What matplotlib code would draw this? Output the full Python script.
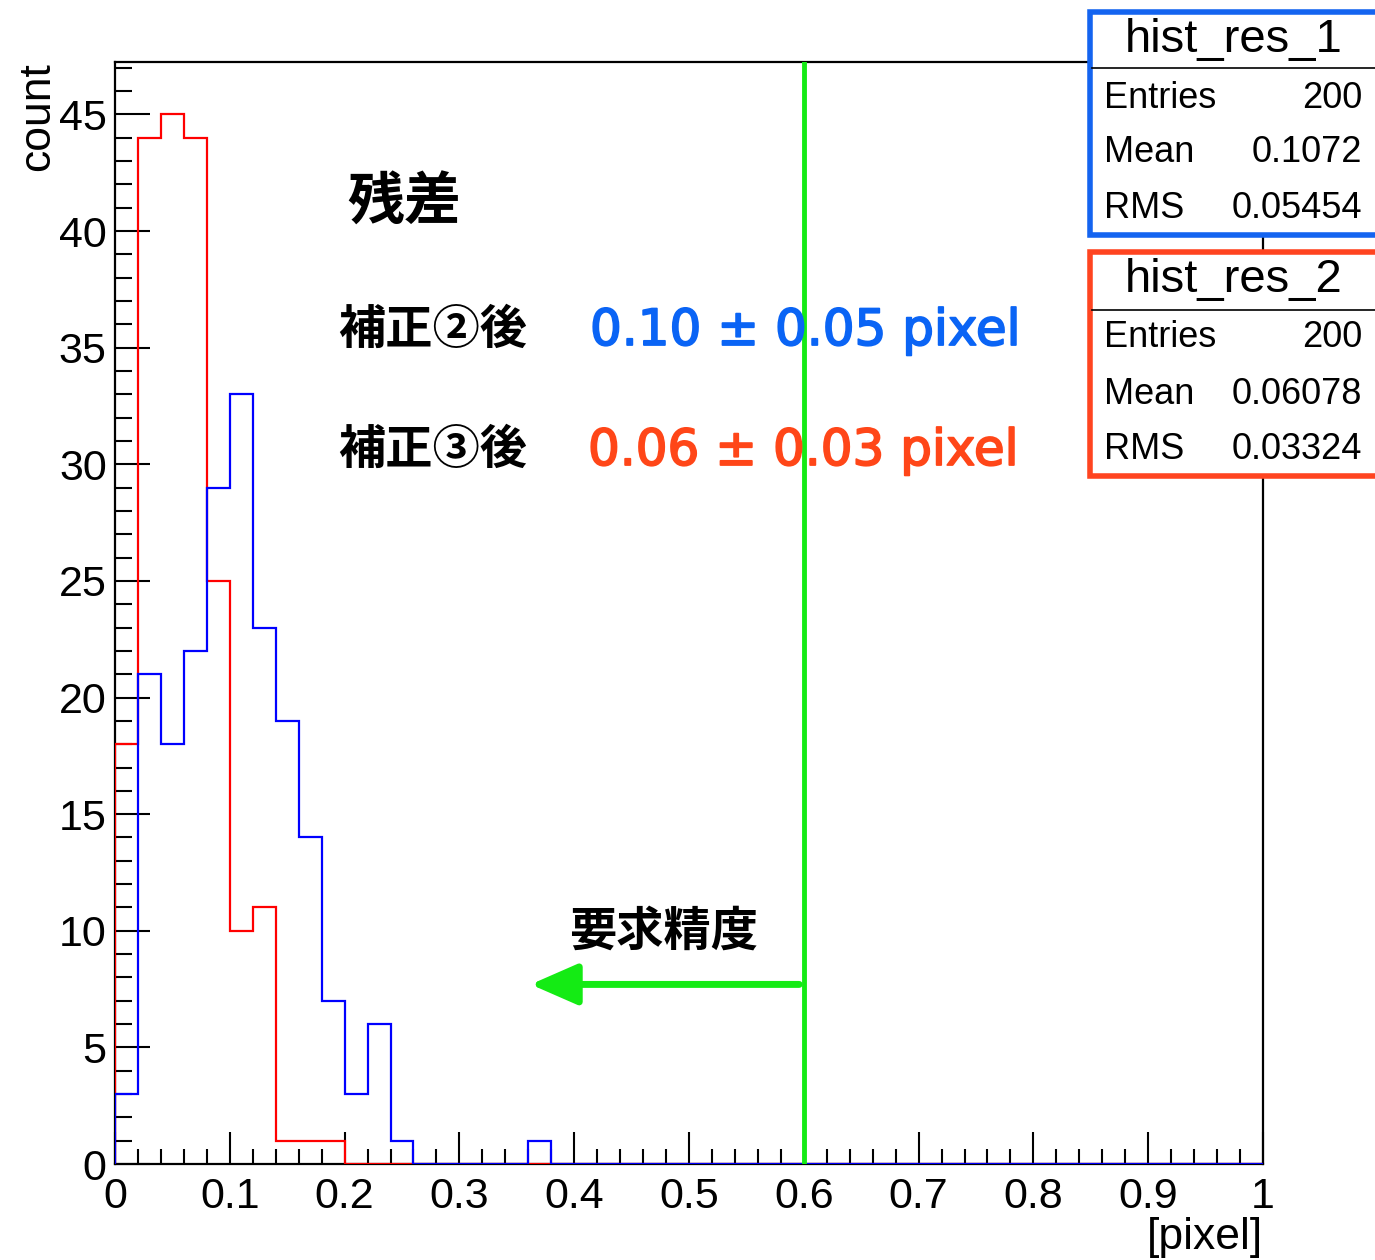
import numpy as np
import matplotlib
matplotlib.use("Agg")
import matplotlib.pyplot as plt
import matplotlib.patheffects as pe
from matplotlib.patches import Rectangle
from matplotlib.lines import Line2D
from matplotlib.ticker import MultipleLocator

# ---------------- data ----------------
x_min, x_max, n_bins = 0.0, 1.0, 50
counts_res_1 = [3, 21, 18, 22, 29, 33, 23, 19, 14, 7, 3, 6, 1, 0, 0, 0, 0, 0, 1, 0,
                0, 0, 0, 0, 0, 0, 0, 0, 0, 0, 0, 0, 0, 0, 0, 0, 0, 0, 0, 0,
                0, 0, 0, 0, 0, 0, 0, 0, 0, 0]
counts_res_2 = [18, 44, 45, 44, 25, 10, 11, 1, 1, 1, 0, 0, 0, 0, 0, 0, 0, 0, 0, 0,
                0, 0, 0, 0, 0, 0, 0, 0, 0, 0, 0, 0, 0, 0, 0, 0, 0, 0, 0, 0,
                0, 0, 0, 0, 0, 0, 0, 0, 0, 0]
required_precision = 0.6
arrow_tip_x = 0.362
arrow_y = 7.7
stats_1 = {"name": "hist_res_1", "Entries": "200", "Mean": "0.1072", "RMS": "0.05454"}
stats_2 = {"name": "hist_res_2", "Entries": "200", "Mean": "0.06078", "RMS": "0.03324"}
label_title = "残差"
label_row1 = "補正②後"
label_row2 = "補正③後"
value_row1 = "0.10 ± 0.05 pixel"
value_row2 = "0.06 ± 0.03 pixel"
label_req = "要求精度"
x_label = "[pixel]"
y_label = "count"

# ---------------- style ----------------
W, H = 1375, 1260
fig = plt.figure(figsize=(W / 100, H / 100), dpi=100)
latin = ["Liberation Sans", "DejaVu Sans"]
wide = ["DejaVu Sans"]
cjk = ["Noto Sans CJK JP", "DejaVu Sans"]
plt.rcParams["font.family"] = latin

GREEN = "#14eb14"
BLUE_TXT = "#0a64f5"
RED_TXT = "#ff4618"

def fx(px):
    return px / W

def fy(py):
    return 1 - py / H

ax = fig.add_axes([fx(115), fy(1164), fx(1263) - fx(115), fy(62) - fy(1164)])

edges = np.linspace(x_min, x_max, n_bins + 1)
ax.stairs(counts_res_2, edges, baseline=0, color="#ff0000", lw=1.6, zorder=3)
ax.stairs(counts_res_1, edges, baseline=0, color="#0000ff", lw=1.6, zorder=4)

ax.set_xlim(x_min, x_max)
ax.set_ylim(0, max(max(counts_res_1), max(counts_res_2)) * 1.05)

ax.xaxis.set_major_locator(MultipleLocator(0.1))
ax.xaxis.set_minor_locator(MultipleLocator(0.02))
ax.yaxis.set_major_locator(MultipleLocator(5))
ax.yaxis.set_minor_locator(MultipleLocator(1))
ax.xaxis.set_major_formatter(matplotlib.ticker.FuncFormatter(lambda v, p: "%g" % round(v, 2)))

ax.tick_params(axis="both", which="both", direction="in", top=False, right=False,
               width=1.5, labelsize=31)
ax.tick_params(axis="x", which="major", length=23, pad=9)
ax.tick_params(axis="x", which="minor", length=11)
ax.tick_params(axis="y", which="major", length=25, pad=6)
ax.tick_params(axis="y", which="minor", length=12)
for s in ax.spines.values():
    s.set_linewidth(1.6)

ax.axvline(required_precision, color=GREEN, lw=3.5, zorder=5)
ax.annotate("", xy=(arrow_tip_x, arrow_y), xytext=(required_precision - 0.004, arrow_y),
            arrowprops=dict(arrowstyle="-|>,head_length=0.8,head_width=0.35",
                            color=GREEN, lw=5, mutation_scale=36, shrinkA=0, shrinkB=0),
            zorder=5)

# axis labels
fig.text(fx(1263), fy(1237), x_label, ha="right", va="center", fontsize=32)
fig.text(fx(38), fy(62), y_label, ha="center", va="top", rotation=90, fontsize=32)

# annotations
fig.text(fx(404), fy(203), label_title, ha="center", va="center", fontsize=41,
         fontweight="bold", family=cjk)
fig.text(fx(338), fy(330), label_row1, ha="left", va="center", fontsize=34,
         fontweight="bold", family=cjk)
fig.text(fx(338), fy(450), label_row2, ha="left", va="center", fontsize=34,
         fontweight="bold", family=cjk)
for txt, col, x0, y0 in [(value_row1, BLUE_TXT, 590, 331), (value_row2, RED_TXT, 588, 451)]:
    fig.text(fx(x0), fy(y0), txt, ha="left", va="center", fontsize=36,
             color=col, family=wide,
             path_effects=[pe.withStroke(linewidth=1.3, foreground=col)])
fig.text(fx(664), fy(932), label_req, ha="center", va="center", fontsize=34,
         fontweight="bold", family=cjk)

# stats boxes
def stats_box(top, bottom, sep, color, st, rows_y, title_y):
    r = Rectangle((fx(1090), fy(bottom)), fx(1420) - fx(1090), fy(top) - fy(bottom),
                  transform=fig.transFigure, facecolor="white", edgecolor=color,
                  lw=4, zorder=10, clip_on=False)
    fig.add_artist(r)
    fig.add_artist(Line2D([fx(1092), fx(1420)], [fy(sep), fy(sep)],
                          transform=fig.transFigure, color="black", lw=1.2, zorder=11))
    fig.text(fx(1234), fy(title_y), st["name"], ha="center", va="center",
             fontsize=34, zorder=12)
    for key, yy in zip(["Entries", "Mean", "RMS"], rows_y):
        fig.text(fx(1104), fy(yy), key, ha="left", va="center", fontsize=26, zorder=12)
        fig.text(fx(1362), fy(yy), st[key], ha="right", va="center", fontsize=26, zorder=12)

stats_box(12, 235, 68, "#1464f0", stats_1, [98, 153, 209], 40)
stats_box(252, 476, 310, "#ff4420", stats_2, [338, 394, 449], 280)

fig.savefig("out.png", dpi=100)
